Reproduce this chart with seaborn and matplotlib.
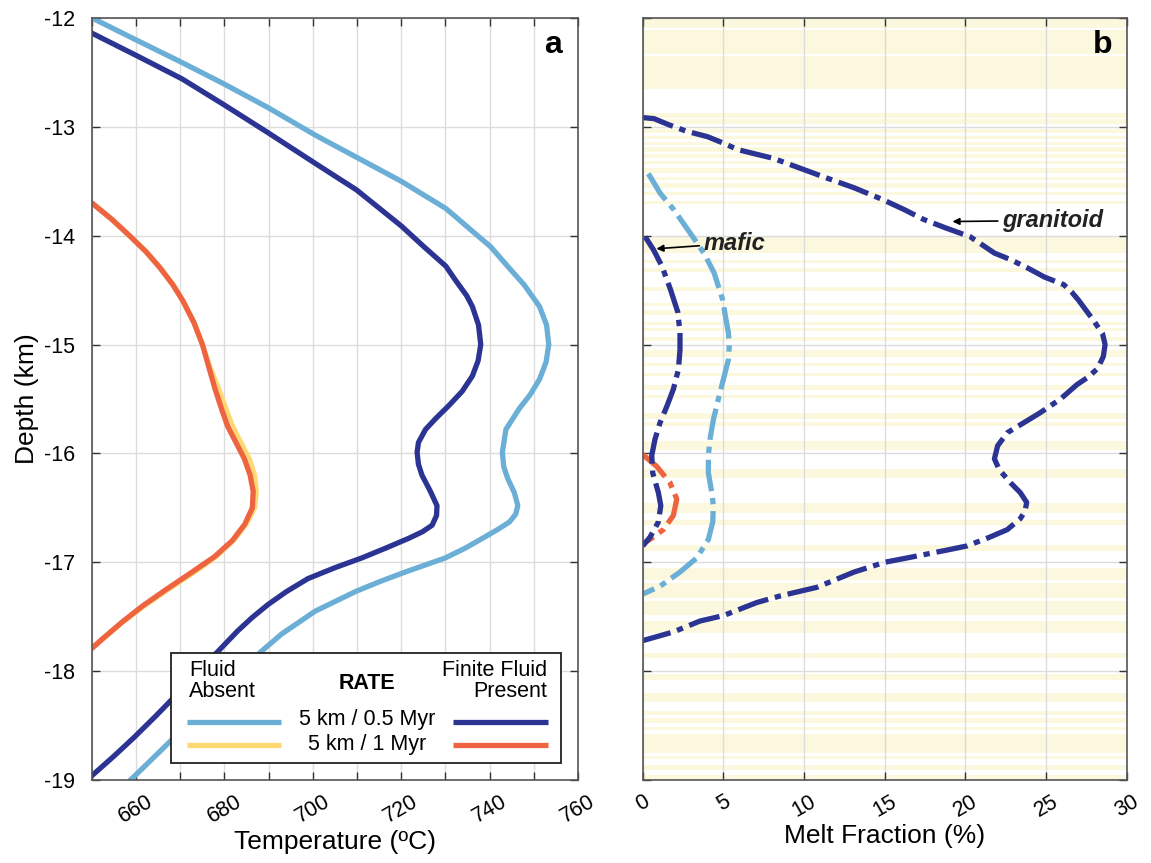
import numpy as np
import pandas as pd
import matplotlib
matplotlib.use("Agg")
import matplotlib.pyplot as plt
import seaborn as sns
from matplotlib.lines import Line2D
from matplotlib.patches import Rectangle

# ---------------- Panel a: temperature profiles ----------------
series_names = ["Fluid Absent 5 km / 0.5 Myr", "Finite Fluid 5 km / 0.5 Myr",
                "Fluid Absent 5 km / 1 Myr", "Finite Fluid 5 km / 1 Myr"]
series_colors = ["#6BAED6", "#2B3393", "#FDD873", "#EE6340"]

depth_abs05 = [-12.00, -12.19, -12.41, -12.60, -12.82, -13.08, -13.28, -13.50, -13.75, -14.00,
               -14.10, -14.30, -14.45, -14.65, -14.82, -15.00, -15.16, -15.32, -15.46, -15.59,
               -15.78, -15.99, -16.12, -16.23, -16.36, -16.48, -16.56, -16.63, -16.70, -16.78,
               -16.87, -16.96, -17.09, -17.18, -17.27, -17.45, -17.66, -17.82, -18.00, -18.21,
               -18.41, -18.61, -18.80, -18.97, -19.00]
temp_abs05 = [650.0, 659.4, 670.4, 679.6, 689.7, 700.7, 709.9, 720.0, 730.1, 737.3,
              740.2, 744.5, 747.8, 751.3, 752.9, 753.4, 752.8, 751.3, 749.2, 746.7,
              743.7, 742.9, 743.2, 744.1, 745.6, 746.4, 745.9, 744.5, 741.8, 738.4,
              734.5, 730.0, 720.9, 715.0, 709.6, 700.5, 692.9, 688.3, 684.0, 679.2,
              674.0, 668.6, 663.8, 659.5, 658.7]

depth_fin05 = [-12.14, -12.35, -12.56, -12.79, -13.05, -13.34, -13.58, -13.91, -14.10, -14.28,
               -14.41, -14.55, -14.65, -14.82, -15.00, -15.15, -15.29, -15.43, -15.56, -15.68,
               -15.78, -15.90, -15.99, -16.10, -16.20, -16.34, -16.48, -16.57, -16.66, -16.72,
               -16.78, -16.87, -16.96, -17.05, -17.15, -17.27, -17.39, -17.51, -17.63, -17.82,
               -18.01, -18.21, -18.41, -18.61, -18.78, -18.96]
temp_fin05 = [650.0, 660.3, 670.4, 679.6, 689.7, 700.7, 709.9, 720.0, 725.1, 730.1,
              732.3, 734.8, 736.1, 737.5, 738.0, 737.4, 736.1, 733.8, 730.8, 727.8,
              725.5, 723.9, 723.6, 723.9, 724.7, 726.5, 728.1, 728.0, 727.0, 724.8,
              721.7, 716.5, 711.1, 705.0, 698.9, 694.0, 689.8, 686.2, 683.0, 678.5,
              674.0, 669.3, 664.5, 659.5, 655.0, 650.0]

depth_1myr = [-13.70, -13.85, -14.00, -14.15, -14.30, -14.45, -14.60, -14.80, -15.00, -15.20,
              -15.40, -15.60, -15.75, -15.90, -16.05, -16.20, -16.35, -16.50, -16.65, -16.80,
              -16.95, -17.10, -17.25, -17.40, -17.55, -17.70, -17.79]
temp_abs1 = [650.0, 654.5, 658.5, 662.3, 665.5, 668.3, 670.6, 673.1, 675.0, 676.6,
             678.6, 680.4, 681.8, 683.7, 685.6, 686.8, 687.2, 686.8, 684.9, 682.0,
             678.0, 672.8, 667.2, 661.8, 656.9, 652.5, 650.0]
temp_fin1 = [650.0, 654.5, 658.5, 662.3, 665.5, 668.3, 670.6, 673.1, 675.0, 676.4,
             677.8, 679.4, 680.7, 682.6, 684.5, 685.8, 686.5, 686.3, 684.6, 681.8,
             677.7, 672.3, 666.8, 661.5, 656.8, 652.5, 650.0]

# ---------------- Panel b: melt fraction ----------------
depth_granitoid = [-12.915, -12.925, -12.98, -13.04, -13.09, -13.15, -13.21, -13.29, -13.38, -13.47,
                   -13.56, -13.67, -13.76, -13.85, -13.93, -14.01, -14.16, -14.22, -14.30, -14.38,
                   -14.45, -14.52, -14.59, -14.77, -14.90, -15.00, -15.11, -15.22, -15.30, -15.37,
                   -15.50, -15.63, -15.72, -15.81, -15.93, -16.05, -16.15, -16.27, -16.36, -16.45,
                   -16.53, -16.60, -16.70, -16.77, -16.85, -16.89, -16.96, -17.00, -17.09, -17.23,
                   -17.31, -17.37, -17.49, -17.54, -17.64, -17.72]
melt_granitoid = [0.0, 0.7, 1.6, 2.7, 4.0, 5.0, 5.9, 8.1, 9.75, 11.4,
                  13.1, 14.9, 16.2, 17.4, 18.8, 20.3, 21.8, 22.8, 23.9, 24.9,
                  26.1, 26.6, 27.0, 27.9, 28.5, 28.66, 28.55, 28.2, 27.6, 26.9,
                  25.9, 24.6, 23.6, 22.6, 22.0, 21.8, 22.1, 22.8, 23.4, 23.8,
                  23.7, 23.4, 22.6, 21.5, 20.1, 18.8, 16.4, 15.0, 13.1, 10.8,
                  8.5, 7.07, 5.0, 3.55, 1.9, 0.0]

depth_mafic_abs05 = [-13.43, -13.61, -13.76, -13.98, -14.16, -14.34, -14.58, -14.76, -14.89, -15.00,
                     -15.14, -15.32, -15.50, -15.69, -15.87, -16.02, -16.18, -16.36, -16.48, -16.63,
                     -16.79, -16.96, -17.09, -17.22, -17.29]
melt_mafic_abs05 = [0.35, 1.08, 1.92, 2.96, 3.79, 4.42, 4.94, 5.15, 5.31, 5.37,
                    5.31, 5.00, 4.69, 4.38, 4.17, 4.07, 4.07, 4.28, 4.38, 4.34,
                    4.07, 3.35, 2.31, 1.07, 0.04]

depth_mafic_fin05 = [-14.01, -14.13, -14.28, -14.49, -14.70, -14.89, -15.05, -15.23, -15.41, -15.57,
                     -15.72, -15.87, -16.02, -16.18, -16.36, -16.48, -16.63, -16.77, -16.85]
melt_mafic_fin05 = [0.15, 0.67, 1.19, 1.71, 2.17, 2.31, 2.31, 2.21, 1.90, 1.49,
                    1.07, 0.76, 0.56, 0.62, 0.97, 1.12, 0.97, 0.45, 0.0]

depth_mafic_fin1 = [-16.01, -16.12, -16.27, -16.42, -16.57, -16.70, -16.79, -16.83]
melt_mafic_fin1 = [0.0, 0.87, 1.69, 2.11, 1.90, 1.28, 0.45, 0.0]

# sampled layers (light yellow bands) in panel b: top, bottom depth (km)
band_top = [-12.00, -12.11, -12.35, -12.87, -12.93, -13.02, -13.08, -13.14, -13.19, -13.25,
            -13.31, -13.38, -13.46, -13.52, -13.60, -13.68, -14.01, -14.22, -14.30, -14.47,
            -14.62, -14.68, -14.79, -14.85, -14.93, -15.05, -15.17, -15.26, -15.37, -15.46,
            -15.63, -15.71, -15.89, -16.14, -16.46, -16.61, -16.84, -17.05, -17.19, -17.36,
            -17.54, -17.83, -18.03, -18.20, -18.37, -18.43, -18.51, -18.58, -18.78, -18.86,
            -18.95]
band_bottom = [-12.09, -12.33, -12.65, -12.92, -12.97, -13.06, -13.11, -13.17, -13.23, -13.29,
               -13.34, -13.42, -13.49, -13.56, -13.63, -13.71, -14.16, -14.25, -14.33, -14.51,
               -14.65, -14.73, -14.82, -14.88, -14.97, -15.11, -15.20, -15.29, -15.42, -15.49,
               -15.68, -15.75, -15.97, -16.23, -16.55, -16.66, -16.90, -17.16, -17.33, -17.48,
               -17.65, -17.88, -18.08, -18.28, -18.40, -18.48, -18.54, -18.75, -18.81, -18.91,
               -19.00]

temp_ticks = [660, 680, 700, 720, 740, 760]
melt_ticks = [0, 5, 10, 15, 20, 25, 30]
depth_ticks = [-12, -13, -14, -15, -16, -17, -18, -19]

# ---------------- styling ----------------
sns.set_style("ticks")
plt.rcParams["font.family"] = ["Liberation Sans", "DejaVu Sans"]
plt.rcParams["text.color"] = "black"
plt.rcParams["axes.labelcolor"] = "black"
plt.rcParams["xtick.color"] = "#333333"
plt.rcParams["ytick.color"] = "#333333"
plt.rcParams["xtick.labelcolor"] = "black"
plt.rcParams["ytick.labelcolor"] = "black"

fig = plt.figure(figsize=(11.51, 8.63), dpi=100)
axa = fig.add_axes([0.0799, 0.0962, 0.4222, 0.883])
axb = fig.add_axes([0.5584, 0.0962, 0.4205, 0.883])

grid_c = "#DCDCDC"
spine_c = "#555555"

df_a = pd.concat([
    pd.DataFrame({"depth": depth_abs05, "temp": temp_abs05, "series": series_names[0]}),
    pd.DataFrame({"depth": depth_fin05, "temp": temp_fin05, "series": series_names[1]}),
    pd.DataFrame({"depth": depth_1myr, "temp": temp_abs1, "series": series_names[2]}),
    pd.DataFrame({"depth": depth_1myr, "temp": temp_fin1, "series": series_names[3]}),
], ignore_index=True)

sns.lineplot(data=df_a, x="temp", y="depth", hue="series", hue_order=series_names,
             palette=dict(zip(series_names, series_colors)), orient="y", sort=False,
             estimator=None, linewidth=3.8, legend=False, ax=axa)
for ln in axa.lines:
    ln.set_solid_joinstyle("round")

# ---- panel b ----
for top, bot in zip(band_top, band_bottom):
    axb.axhspan(bot, top, color="#FBF8DE", lw=0, zorder=0.2)

dash = (0, (6, 1.3, 1.2, 1.3))
b_series = [
    (depth_mafic_abs05, melt_mafic_abs05, series_colors[0]),
    (depth_granitoid, melt_granitoid, series_colors[1]),
    (depth_mafic_fin1, melt_mafic_fin1, series_colors[3]),
    (depth_mafic_fin05, melt_mafic_fin05, series_colors[1]),
]
for d, m, c in b_series:
    sns.lineplot(x=m, y=d, orient="y", sort=False, estimator=None, color=c,
                 linewidth=3.8, ax=axb)
    axb.lines[-1].set_linestyle(dash)
    axb.lines[-1].set_dash_capstyle("butt")

# ---- common axes styling ----
for ax in (axa, axb):
    ax.set_ylim(-19, -12)
    ax.set_yticks(depth_ticks)
    ax.set_axisbelow(True)
    ax.grid(True, color=grid_c, lw=1.0)
    ax.tick_params(axis="both", direction="in", length=6, width=1.0,
                   top=True, right=True, labelsize=15.5)
    ax.tick_params(axis="x", labelrotation=30, pad=8)
    ax.tick_params(axis="y", pad=12)
    for s in ax.spines.values():
        s.set_color(spine_c)
        s.set_linewidth(1.2)
    ax.set_ylabel("")

axa.set_xlim(650, 760)
axa.set_xticks(np.arange(650, 761, 10))
axa.set_xticklabels(["" if t not in temp_ticks else str(t) for t in np.arange(650, 761, 10)])
axa.set_yticklabels([str(t) for t in depth_ticks])
axa.set_xlabel("Temperature (ºC)", fontsize=19, labelpad=2)
axa.set_ylabel("Depth (km)", fontsize=19, labelpad=4)

axb.set_xlim(0, 30)
axb.set_xticks(melt_ticks)
axb.set_xticklabels([str(t) for t in melt_ticks])
axb.set_yticklabels([])
axb.set_xlabel("Melt Fraction (%)", fontsize=19, labelpad=2)

axa.text(0.948, 0.965, "a", transform=axa.transAxes, fontsize=23, fontweight="bold",
         ha="center", va="center")
axb.text(0.951, 0.965, "b", transform=axb.transAxes, fontsize=23, fontweight="bold",
         ha="center", va="center")

# annotations
axb.annotate("mafic", xy=(0.85, -14.12), xytext=(3.8, -14.07), fontsize=17,
             fontweight="bold", style="italic", ha="left", va="center", color="#222222",
             arrowprops=dict(arrowstyle="-|>", color="black", lw=1.2, mutation_scale=10,
                             shrinkA=1, shrinkB=0))
axb.annotate("granitoid", xy=(19.2, -13.87), xytext=(22.3, -13.86), fontsize=17,
             fontweight="bold", style="italic", ha="left", va="center", color="#222222",
             arrowprops=dict(arrowstyle="-|>", color="black", lw=1.2, mutation_scale=10,
                             shrinkA=1, shrinkB=0))

# ---- custom legend box in panel a ----
T = axa.transAxes
axa.add_patch(Rectangle((0.1626, 0.0223), 0.965 - 0.1626, 0.1667 - 0.0223, transform=T,
                        facecolor="white", edgecolor="#222222", lw=1.3, zorder=5))
fs = 15.5
axa.text(0.20, 0.157, "Fluid\nAbsent", transform=T, ha="left", va="top", fontsize=fs,
         linespacing=1.0, zorder=6)
axa.text(0.936, 0.157, "Finite Fluid\nPresent", transform=T, ha="right", va="top",
         fontsize=fs, linespacing=1.0, multialignment="right", zorder=6)
axa.text(0.566, 0.126, "RATE", transform=T, ha="center", va="center", fontsize=fs,
         fontweight="bold", zorder=6)
axa.text(0.566, 0.0800, "5 km / 0.5 Myr", transform=T, ha="center", va="center",
         fontsize=fs, zorder=6)
axa.text(0.566, 0.0460, "5 km / 1 Myr", transform=T, ha="center", va="center",
         fontsize=fs, zorder=6)
for (x0, x1), y, c in [((0.195, 0.389), 0.0761, series_colors[0]),
                       ((0.195, 0.389), 0.0459, series_colors[2]),
                       ((0.743, 0.938), 0.0761, series_colors[1]),
                       ((0.743, 0.938), 0.0459, series_colors[3])]:
    axa.add_line(Line2D([x0, x1], [y, y], transform=T, color=c, lw=3.8, zorder=6,
                        solid_capstyle="butt"))

fig.savefig("out.png", dpi=100)
